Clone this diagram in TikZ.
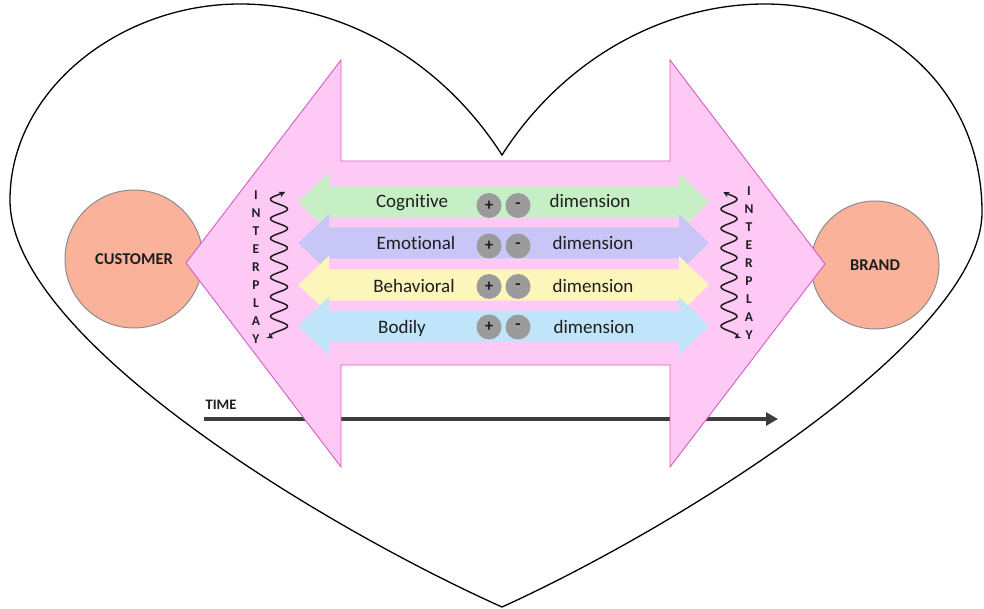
\documentclass[tikz,border=0pt]{standalone}
\usepackage{fontspec}
\setmainfont{Carlito}[Ligatures={NoCommon,NoContextual}]
\usetikzlibrary{arrows.meta}
\definecolor{pinkfill}{RGB}{255,201,245}
\definecolor{pinkedge}{RGB}{212,92,200}
\definecolor{salmon}{RGB}{250,178,155}
\definecolor{circedge}{RGB}{140,140,140}
\definecolor{bgreen}{RGB}{199,239,197}
\definecolor{bpurple}{RGB}{200,198,246}
\definecolor{byellow}{RGB}{253,246,186}
\definecolor{bblue}{RGB}{192,228,250}
\definecolor{pmgrey}{RGB}{155,155,155}
\definecolor{txt}{RGB}{30,30,30}
\definecolor{timegrey}{RGB}{60,60,60}
\newcommand\bandarrow[2]{%
  \fill[#1] (298,#2) -- (329,#2-29) -- (329,#2-15.5) -- (679,#2-15.5) -- (679,#2-29)
    -- (709,#2) -- (679,#2+29) -- (679,#2+15.5) -- (329,#2+15.5) -- (329,#2+29) -- cycle;}
\tikzset{
  heartline/.style={line width=1.3pt, black},
  actor/.style={circle, draw=circedge, line width=1pt, fill=salmon, inner sep=0pt,
    font=\fontsize{16.5}{18}\selectfont\bfseries, text=txt},
  bigarrow/.style={fill=pinkfill, draw=pinkedge, line width=0.9pt, line join=miter},
  lbl/.style={anchor=base, inner sep=0pt, font=\fontsize{19}{22}\selectfont, text=txt},
  pm/.style={circle, fill=pmgrey, minimum size=25pt, inner sep=0pt,
    font=\fontsize{17}{18}\selectfont\bfseries, text=txt},
  vword/.style={align=center, inner sep=0pt, font=\fontsize{13.5}{18}\selectfont\bfseries, text=txt},
  wave/.style={line width=1.5pt, txt, {Stealth[length=6pt,width=6pt]}-{Stealth[length=6pt,width=6pt]}},
  timeline/.style={line width=3.8pt, timegrey, -{Triangle[length=12pt,width=13pt]}},
  timelbl/.style={inner sep=0pt, font=\fontsize{14.5}{16}\selectfont\bfseries, text=txt}
}
\begin{document}
\begin{tikzpicture}[x=1pt,y=-1pt]
\useasboundingbox (0,0) rectangle (984,609);
% heart
\draw[heartline] (502,155) .. controls (440,58) and (340,4) .. (240,4)
  .. controls (120,4) and (10,90) .. (10,200)
  .. controls (10,340) and (330,530) .. (502,607)
  .. controls (672,530) and (982,340) .. (982,212)
  .. controls (982,90) and (885,4) .. (765,4)
  .. controls (665,4) and (564,58) .. cycle;
% actors
\node[actor, minimum size=138pt] (cust) at (134,259) {CUSTOMER};
\node[actor, minimum size=128pt] (brand) at (875,265) {BRAND};
% time
\node[timelbl] (time) at (221,405) {TIME};
\coordinate (t0) at (204,419);
\coordinate (t1) at (778,419);
\draw[timeline] (t0) -- (t1);
% big double arrow
\draw[bigarrow] (186,263) -- (341,60) -- (341,161) -- (670,161) -- (670,60) -- (825,264)
  -- (670,467) -- (670,365) -- (341,365) -- (341,467) -- cycle;
% bands
\bandarrow{bgreen}{202}
\bandarrow{bpurple}{243}
\bandarrow{byellow}{285}
\bandarrow{bblue}{326}
% band texts
\node[lbl] (cog) at (412,208) {Cognitive};
\node[pm] (cogp) at (489,205.5) {+};
\node[pm] (cogm) at (518,205.5) {-};
\node[lbl] (cogd) at (590,208) {dimension};
\node[lbl] (emo) at (416,250) {Emotional};
\node[pm] (emop) at (489,246) {+};
\node[pm] (emom) at (518,246) {-};
\node[lbl] (emod) at (593,250) {dimension};
\node[lbl] (beh) at (414,292) {Behavioral};
\node[pm] (behp) at (489,286.5) {+};
\node[pm] (behm) at (518,286.5) {-};
\node[lbl] (behd) at (593,292) {dimension};
\node[lbl] (bod) at (402,333) {Bodily};
\node[pm] (bodp) at (489,327) {+};
\node[pm] (bodm) at (518,327) {-};
\node[lbl] (bodd) at (594,333) {dimension};
% interplay
\node[vword] (ipl) at (256,267) {I\\N\\T\\E\\R\\P\\L\\A\\Y};
\node[vword] (ipr) at (749,263) {I\\N\\T\\E\\R\\P\\L\\A\\Y};
\draw[wave] plot[domain=135:2835, samples=300, smooth] ({279+8.5*sin(\x)},{192+(\x-135)/360*19.5});
\draw[wave] plot[domain=135:2835, samples=300, smooth] ({729-8*sin(\x)},{192+(\x-135)/360*19.5});
\end{tikzpicture}
\end{document}
